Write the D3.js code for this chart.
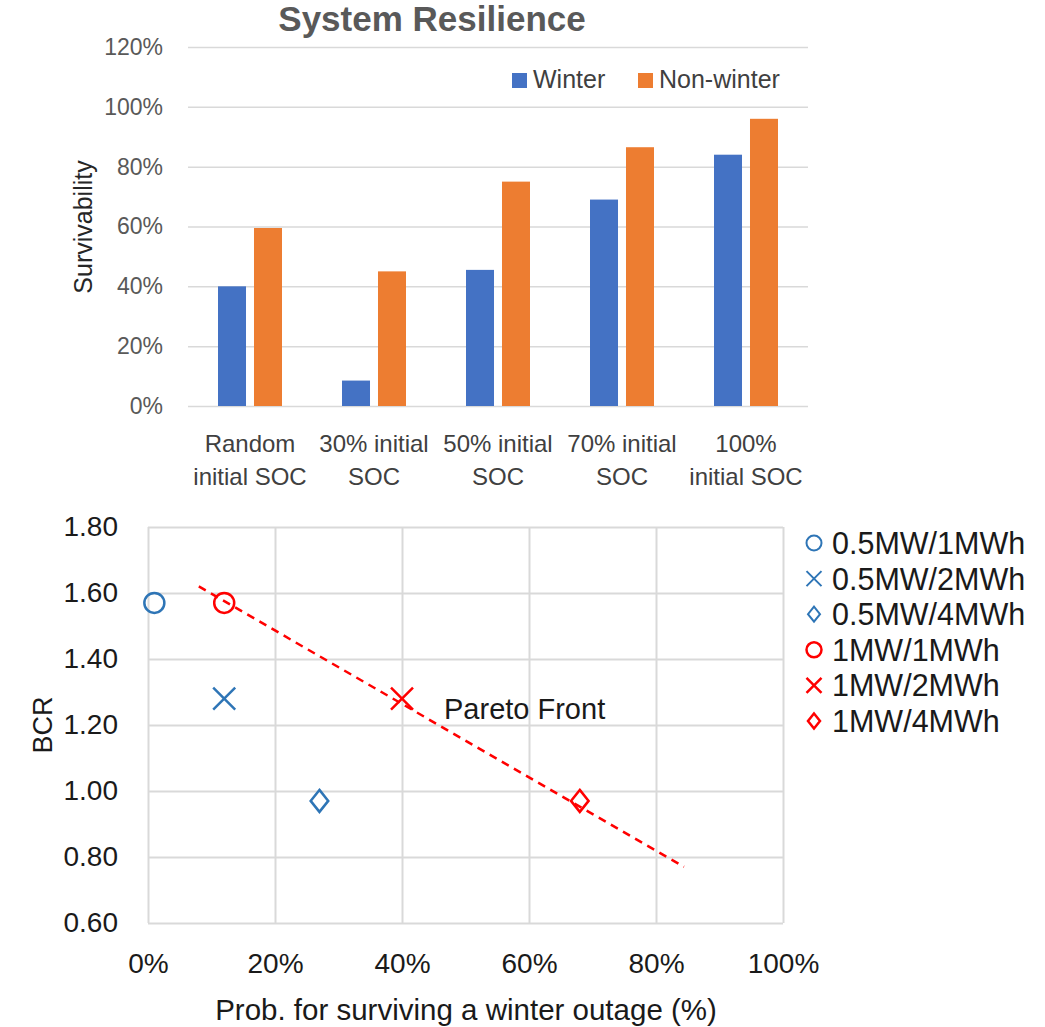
<!DOCTYPE html>
<html>
<head>
<meta charset="utf-8">
<script src="https://cdn.jsdelivr.net/npm/d3@7"></script>
<style>
  body { margin: 0; background: #fff; }
  text { font-family: 'Liberation Sans', Arial, sans-serif; }
</style>
</head>
<body>
<svg id="chart" width="1045" height="1027"></svg>
<script>
// ---- top chart data (bar chart)
const categories = ["Random initial SOC", "30% initial SOC", "50% initial SOC", "70% initial SOC", "100% initial SOC"]
const categoryLines = [["Random", "initial SOC"], ["30% initial", "SOC"], ["50% initial", "SOC"], ["70% initial", "SOC"], ["100%", "initial SOC"]]
const seriesNames = ["Winter", "Non-winter"]
const winter = [40, 8.5, 45.5, 69, 84]
const nonWinter = [59.5, 45, 75, 86.5, 96]
const survTicks = [0, 20, 40, 60, 80, 100, 120]

// ---- bottom chart data (scatter)
const configs = ["0.5MW/1MWh", "0.5MW/2MWh", "0.5MW/4MWh", "1MW/1MWh", "1MW/2MWh", "1MW/4MWh"]
const configShape = ["circle", "cross", "diamond", "circle", "cross", "diamond"]
const configGroup = ["0.5MW", "0.5MW", "0.5MW", "1MW", "1MW", "1MW"]
const survProb = [1, 12, 27, 12, 40, 68]
const bcr = [1.57, 1.28, 0.97, 1.57, 1.28, 0.97]
const paretoX = [8, 84.4]
const paretoY = [1.62, 0.77]
const probTicks = [0, 20, 40, 60, 80, 100]
const bcrTicks = [0.6, 0.8, 1.0, 1.2, 1.4, 1.6, 1.8]

const svg = d3.select("#chart")

const barColor = d3.scaleOrdinal().domain(seriesNames).range(["#4472C4", "#ED7D31"])
const markColor = d3.scaleOrdinal().domain(["0.5MW", "1MW"]).range(["#2E75B6", "#FF0000"])

// ================= TOP: System Resilience =================
const xTop = d3.scaleBand().domain(categories).range([188, 808])
const xInner = d3.scaleBand().domain(seriesNames).range([0, 64]).paddingInner(0.222)
const yTop = d3.scaleLinear().domain([0, 120]).range([406, 47])

svg.append("text")
  .attr("x", 432)
  .attr("y", 31)
  .attr("text-anchor", "middle")
  .style("font-size", "35px")
  .style("font-weight", "bold")
  .style("fill", "#595959")
  .text("System Resilience")

// gridlines + tick labels
const yAxisTop = svg.append("g")
  .attr("transform", "translate(188,0)")
  .call(d3.axisLeft(yTop).tickValues(survTicks).tickSize(-620).tickPadding(25).tickFormat(d => d + "%"))
yAxisTop.select(".domain").remove()
yAxisTop.selectAll(".tick line").attr("stroke", "#d9d9d9").attr("stroke-width", 1.5)
yAxisTop.selectAll(".tick text")
  .style("font-size", "23px")
  .style("font-family", "'Liberation Sans', Arial, sans-serif")
  .attr("fill", "#595959")

const rows = categories.map((c, i) => ({ cat: c, values: [winter[i], nonWinter[i]] }))

svg.append("g")
  .selectAll("g")
  .data(rows)
  .join("g")
  .attr("transform", d => `translate(${xTop(d.cat) + (xTop.bandwidth() - 64) / 2},0)`)
  .selectAll("rect")
  .data(d => d.values.map((v, j) => ({ key: seriesNames[j], value: v })))
  .join("rect")
  .attr("x", d => xInner(d.key))
  .attr("width", xInner.bandwidth())
  .attr("y", d => yTop(d.value))
  .attr("height", d => yTop(0) - yTop(d.value))
  .attr("fill", d => barColor(d.key))

// category labels on two lines
const catLabel = svg.append("g")
  .selectAll("text")
  .data(categories)
  .join("text")
  .attr("x", d => xTop(d) + xTop.bandwidth() / 2)
  .attr("text-anchor", "middle")
  .style("font-size", "24px")
  .attr("fill", "#404040")
catLabel.append("tspan").attr("x", d => xTop(d) + xTop.bandwidth() / 2).attr("y", 452).text((d, i) => categoryLines[i][0])
catLabel.append("tspan").attr("x", d => xTop(d) + xTop.bandwidth() / 2).attr("y", 485).text((d, i) => categoryLines[i][1])

svg.append("text")
  .attr("transform", "translate(92,227) rotate(-90)")
  .attr("text-anchor", "middle")
  .style("font-size", "25px")
  .attr("fill", "#262626")
  .text("Survivability")

// legend top
const legTop = svg.append("g")
  .selectAll("g")
  .data(seriesNames)
  .join("g")
  .attr("transform", (d, i) => `translate(${[512, 638][i]},73)`)
legTop.append("rect").attr("width", 15).attr("height", 15).attr("fill", d => barColor(d))
legTop.append("text")
  .attr("x", 21)
  .attr("y", 15)
  .style("font-size", "25px")
  .attr("fill", "#404040")
  .text(d => d)

// ================= BOTTOM: BCR vs survival =================
const xBot = d3.scaleLinear().domain([0, 100]).range([148, 783])
const yBot = d3.scaleLinear().domain([0.6, 1.8]).range([923, 527])

const gx = svg.append("g")
  .attr("transform", "translate(0,923)")
  .call(d3.axisBottom(xBot).tickValues(probTicks).tickSize(-396).tickPadding(30).tickFormat(d => d + "%"))
gx.select(".domain").remove()
gx.selectAll(".tick line").attr("stroke", "#d9d9d9").attr("stroke-width", 2)
gx.selectAll(".tick text")
  .style("font-size", "28px")
  .style("font-family", "'Liberation Sans', Arial, sans-serif")
  .attr("fill", "#1a1a1a")

const gy = svg.append("g")
  .attr("transform", "translate(148,0)")
  .call(d3.axisLeft(yBot).tickValues(bcrTicks).tickSize(-635).tickPadding(30).tickFormat(d3.format(".2f")))
gy.select(".domain").remove()
gy.selectAll(".tick line").attr("stroke", "#d9d9d9").attr("stroke-width", 2)
gy.selectAll(".tick text")
  .style("font-size", "28px")
  .style("font-family", "'Liberation Sans', Arial, sans-serif")
  .attr("fill", "#1a1a1a")

svg.append("text")
  .attr("x", 466)
  .attr("y", 1020)
  .attr("text-anchor", "middle")
  .style("font-size", "29.5px")
  .attr("fill", "#1a1a1a")
  .text("Prob. for surviving a winter outage (%)")

svg.append("text")
  .attr("transform", "translate(52,725) rotate(-90)")
  .attr("text-anchor", "middle")
  .style("font-size", "27px")
  .attr("fill", "#1a1a1a")
  .text("BCR")

// pareto front dashed line
const pareto = paretoX.map((x, i) => [x, paretoY[i]])
svg.append("path")
  .attr("d", d3.line().x(d => xBot(d[0])).y(d => yBot(d[1]))(pareto))
  .attr("fill", "none")
  .attr("stroke", "#FF0000")
  .attr("stroke-width", 2.5)
  .attr("stroke-dasharray", "8,6")

svg.append("text")
  .attr("x", 444)
  .attr("y", 719)
  .style("font-size", "29px")
  .attr("fill", "#1a1a1a")
  .text("Pareto Front")

// marker paths, s = half size
function markerPath(shape, s) {
  const p = d3.path()
  if (shape === "circle") {
    p.moveTo(s, 0)
    p.arc(0, 0, s, 0, 2 * Math.PI)
  } else if (shape === "cross") {
    p.moveTo(-s, -s); p.lineTo(s, s)
    p.moveTo(-s, s); p.lineTo(s, -s)
  } else {
    const w = s * 0.8
    p.moveTo(0, -s); p.lineTo(w, 0); p.lineTo(0, s); p.lineTo(-w, 0); p.closePath()
  }
  return p.toString()
}

svg.append("g")
  .selectAll("path")
  .data(configs)
  .join("path")
  .attr("transform", (d, i) => `translate(${xBot(survProb[i])},${yBot(bcr[i])})`)
  .attr("d", (d, i) => markerPath(configShape[i], configShape[i] === "circle" ? 10 : 11))
  .attr("fill", "none")
  .attr("stroke", (d, i) => markColor(configGroup[i]))
  .attr("stroke-width", 2.5)

// legend bottom
const legBot = svg.append("g")
  .selectAll("g")
  .data(configs)
  .join("g")
  .attr("transform", (d, i) => `translate(814,${543 + i * 35.6})`)
legBot.append("path")
  .attr("d", (d, i) => markerPath(configShape[i], 7.5))
  .attr("fill", "none")
  .attr("stroke", (d, i) => markColor(configGroup[i]))
  .attr("stroke-width", (d, i) => configGroup[i] === "1MW" ? 2.5 : 2)
legBot.append("text")
  .attr("x", 18)
  .attr("y", 11)
  .style("font-size", "30.5px")
  .attr("fill", "#1a1a1a")
  .text(d => d)
</script>
</body>
</html>
